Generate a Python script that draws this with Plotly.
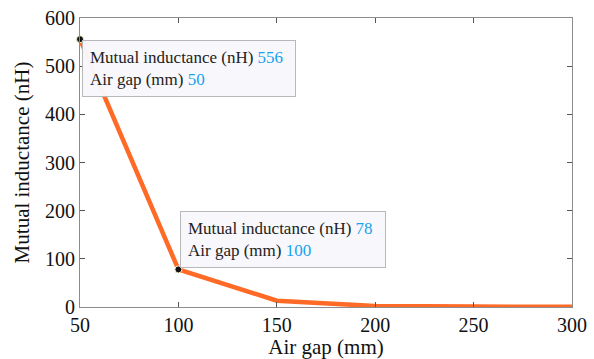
import plotly.graph_objects as go

air_gap = [50, 100, 150, 200, 250, 300]
mutual_inductance = [556, 78, 13, 2, 0.8, 0.3]
tip_x = [50, 100]
tip_y = [556, 78]
x_ticks = [50, 100, 150, 200, 250, 300]
y_ticks = [0, 100, 200, 300, 400, 500, 600]

FONT = "Liberation Serif"
VAL = "#17A2EE"

fig = go.Figure()
fig.add_trace(go.Scatter(x=air_gap, y=mutual_inductance, mode="lines",
                         line=dict(color="#FF6A26", width=4.5), hoverinfo="skip",
                         cliponaxis=False))
fig.add_trace(go.Scatter(x=tip_x, y=tip_y, mode="markers",
                         marker=dict(color="#111111", size=7, line=dict(color="#F5F0C8", width=1)),
                         cliponaxis=False, hoverinfo="skip"))

def tip_text(yv, xv):
    return (f"Mutual inductance (nH) <span style='color:{VAL}'>{yv}</span><br>"
            f"Air gap (mm) <span style='color:{VAL}'>{xv}</span>")

fig.add_annotation(x=tip_x[0], y=tip_y[0], xref="x", yref="y", text=tip_text(tip_y[0], tip_x[0]),
                   showarrow=False, xanchor="left", yanchor="top", xshift=2, yshift=-1,
                   align="left", bgcolor="rgba(248,248,252,0.97)", bordercolor="#B8B8B8",
                   borderwidth=1, borderpad=7, width=198, height=41,
                   font=dict(family=FONT, size=17, color="#222222"))
fig.add_annotation(x=tip_x[1], y=tip_y[1], xref="x", yref="y", text=tip_text(tip_y[1], tip_x[1]),
                   showarrow=False, xanchor="left", yanchor="bottom", xshift=2, yshift=1,
                   align="left", bgcolor="rgba(248,248,252,0.97)", bordercolor="#B8B8B8",
                   borderwidth=1, borderpad=7, width=190, height=41,
                   font=dict(family=FONT, size=17, color="#222222"))

axis_common = dict(showgrid=False, zeroline=False, showline=True, mirror="ticks",
                   linecolor="#8C8C8C", linewidth=1.2, ticks="inside", ticklen=5,
                   tickcolor="#555555", automargin=False,
                   tickfont=dict(family=FONT, size=20, color="#111111"))

fig.update_layout(
    width=594, height=359,
    margin=dict(l=80, r=22, t=18, b=52),
    plot_bgcolor="white", paper_bgcolor="white",
    showlegend=False,
    font=dict(family=FONT),
    xaxis=dict(range=[50, 300], tickvals=x_ticks,
               title=dict(text="Air gap (mm)", font=dict(family=FONT, size=21, color="#111111"), standoff=5),
               **axis_common),
    yaxis=dict(range=[0, 600], tickvals=y_ticks,
               title=dict(text="Mutual inductance (nH)", font=dict(family=FONT, size=21, color="#111111"), standoff=9),
               **axis_common),
)

fig.write_html("out.html")
